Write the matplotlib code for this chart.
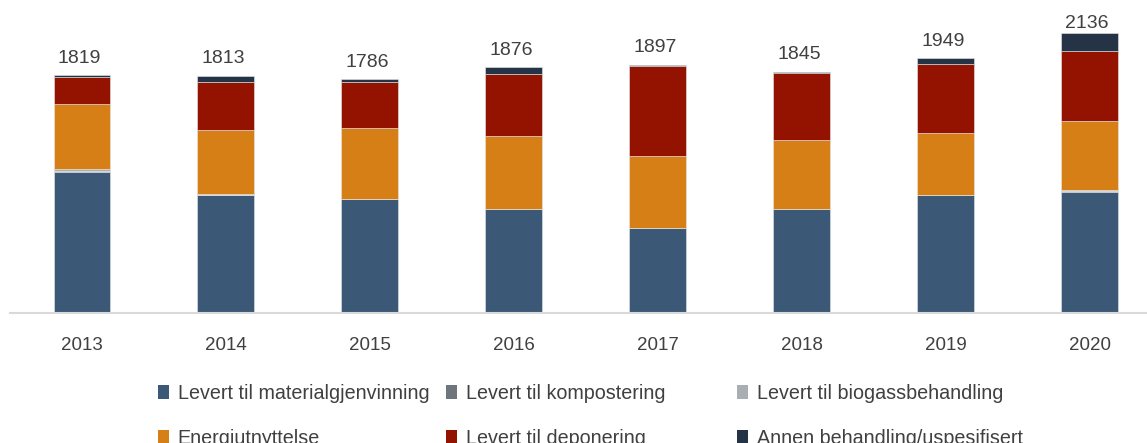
import numpy as np
import matplotlib
matplotlib.use("Agg")
import matplotlib.pyplot as plt
from matplotlib.patches import Patch

plt.rcParams["font.family"] = ["Liberation Sans", "DejaVu Sans"]

# ---------- data ----------
years = ["2013", "2014", "2015", "2016", "2017", "2018", "2019", "2020"]
materialgjenvinning = [1080, 905, 870, 794, 646, 794, 902, 927]
kompostering = [3, 0, 0, 0, 0, 0, 0, 2]
biogass = [15, 2, 1, 1, 2, 2, 2, 13]
energi = [499, 494, 542, 554, 554, 528, 471, 524]
deponering = [209, 364, 351, 479, 682, 513, 527, 535]
annen = [13, 48, 22, 48, 13, 8, 47, 135]

series = [
    ("Levert til materialgjenvinning", materialgjenvinning, "#3B5876"),
    ("Levert til kompostering", kompostering, "#6E757C"),
    ("Levert til biogassbehandling", biogass, "#A9AEB3"),
    ("Energiutnyttelse", energi, "#D77F17"),
    ("Levert til deponering", deponering, "#931200"),
    ("Annen behandling/uspesifisert", annen, "#243345"),
]

# ---------- plot ----------
fig = plt.figure(figsize=(11.47, 4.43), dpi=100)
ax = fig.add_axes([0.0087, 0.2935, 1.004, 0.709])

x = np.arange(len(years))
bottom = np.zeros(len(years))
for label, vals, color in series:
    vals = np.asarray(vals, dtype=float)
    ax.bar(x, vals, 0.395, bottom=bottom, color=color, label=label,
           edgecolor="#E8E8E8", linewidth=0.4)
    bottom += vals

# totals above bars; the tallest one gets squeezed down like in the original
top_lim = 2400
for xi, tot in zip(x, bottom):
    dy = 6 if tot < 2000 else 1
    ax.annotate(f"{int(tot)}", (xi, tot), xytext=(-2, dy), textcoords="offset points",
                ha="center", va="bottom", fontsize=14, color="#404040")

ax.set_xlim(-0.5, len(years) - 0.5)
ax.set_ylim(0, top_lim)
ax.set_xticks(x)
ax.set_xticklabels(years, fontsize=13.5, color="#404040")
ax.tick_params(axis="x", length=0, pad=17)
ax.set_yticks([])
for s in ["top", "right", "left"]:
    ax.spines[s].set_visible(False)
ax.spines["bottom"].set_color("#D9D9D9")
ax.spines["bottom"].set_linewidth(1.5)

# legend: three columns, placed separately like the Excel layout
cols = [(0, 3), (1, 4), (2, 5)]
col_x = [158, 446, 737]
for (i, j), cx in zip(cols, col_x):
    handles = [Patch(facecolor=series[k][2], edgecolor="none") for k in (i, j)]
    labels = [series[k][0] for k in (i, j)]
    leg = fig.legend(handles, labels, loc="upper left",
                     bbox_to_anchor=(cx / 1147, 1 - 384 / 443),
                     frameon=False, fontsize=14.2, handlelength=0.55,
                     handleheight=0.75, handletextpad=0.45, labelspacing=1.3,
                     borderpad=0, borderaxespad=0)
    for t in leg.get_texts():
        t.set_color("#404040")

fig.savefig("out.png", dpi=100)
